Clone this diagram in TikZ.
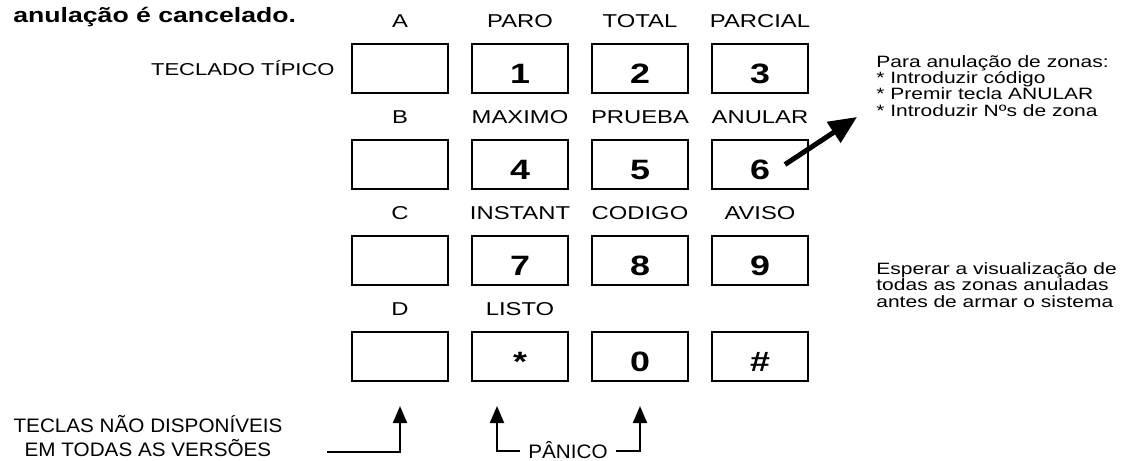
\documentclass[tikz,border=0pt]{standalone}
\usepackage{fontspec}
\setmainfont{Liberation Sans}[FakeStretch=1.28]
\newfontfamily\narrowfont{Liberation Sans}[FakeStretch=1.06]
\usetikzlibrary{positioning, arrows.meta}

\begin{document}
\begin{tikzpicture}[x=0.5pt, y=-0.5pt, node distance=60pt,
    key/.style = {draw, line width=1pt, minimum width=48pt, minimum height=24.5pt, inner sep=0pt, text height=14.5pt, text depth=0pt, font=\bfseries\fontsize{14}{14}\selectfont},
    lbl/.style = {inner sep=0pt, text depth=0pt, font=\fontsize{9.3}{9.3}\selectfont},
    note/.style = {inner sep=0pt, align=left, anchor=base west, font=\fontsize{8.2}{8.15}\selectfont},
    narrow/.style = {inner sep=0pt, text depth=0pt, font=\narrowfont\fontsize{9.75}{12}\selectfont},
    arr/.style = {line width=1pt, -{Triangle[length=8.5pt, width=7pt]}}]
    \useasboundingbox (0,0) rectangle (1137,461);
    \node[anchor=base west, inner sep=0pt, font=\bfseries\fontsize{10.4}{10.4}\selectfont] (ttl) at (13,22) {anulação é cancelado.};
    %keys
    \node[key] (a) at (400,68.5) {};
    \node[key] (1) [right of=a] {1};
    \node[key] (2) [right of=1] {2};
    \node[key] (3) [right of=2] {3};
    \node[key, node distance=48pt] (b) [below of=a] {};
    \node[key] (4) [right of=b] {4};
    \node[key] (5) [right of=4] {5};
    \node[key] (6) [right of=5] {6};
    \node[key, node distance=48pt] (c) [below of=b] {};
    \node[key] (7) [right of=c] {7};
    \node[key] (8) [right of=7] {8};
    \node[key] (9) [right of=8] {9};
    \node[key, node distance=48pt] (d) [below of=c] {};
    \node[key] (st) [right of=d] {*};
    \node[key] (0) [right of=st] {0};
    \node[key] (hs) [right of=0] {\#};
    %labels
    \node[lbl] (la) [above=7.5pt of a] {A};
    \node[lbl] (l1) [above=7.5pt of 1] {PARO};
    \node[lbl] (l2) [above=7.5pt of 2] {TOTAL};
    \node[lbl] (l3) [above=7.5pt of 3] {PARCIAL};
    \node[lbl] (lb) [above=7.5pt of b] {B};
    \node[lbl] (l4) [above=7.5pt of 4] {MAXIMO};
    \node[lbl] (l5) [above=7.5pt of 5] {PRUEBA};
    \node[lbl] (l6) [above=7.5pt of 6] {ANULAR};
    \node[lbl] (lc) [above=7.5pt of c] {C};
    \node[lbl] (l7) [above=7.5pt of 7] {INSTANT};
    \node[lbl] (l8) [above=7.5pt of 8] {CODIGO};
    \node[lbl] (l9) [above=7.5pt of 9] {AVISO};
    \node[lbl] (ld) [above=7.5pt of d] {D};
    \node[lbl] (ls) [above=7.5pt of st] {LISTO};
    \node[lbl, font=\fontsize{8.6}{8.6}\selectfont] (tt) [left=8pt of a] {TECLADO TÍPICO};
    %notes
    \node[note] (n1) at (876,116) {Para anulação de zonas:\\* Introduzir código\\* Premir tecla ANULAR\\* Introduzir Nºs de zona};
    \node[note] (n2) at (876,307) {Esperar a visualização de\\todas as zonas anuladas\\antes de armar o sistema};
    \coordinate (t6) at ([xshift=12.5pt]6.center);
    \coordinate (h6) at (857,117);
    \draw[line width=2.5pt, -{Triangle[length=14pt, width=12pt]}] (t6) -- (h6);
    %bottom
    \node[narrow, align=center, anchor=base] (nd) at (148,456) {TECLAS NÃO DISPONÍVEIS\\EM TODAS AS VERSÕES};
    \node[narrow, inner sep=4pt, text height=7pt] (pn) at (568,451) {PÂNICO};
    \coordinate (c0) at (327,452);
    \coordinate (c1) at ([xshift=-11.5pt]st.south);
    \draw[arr, shorten >=12pt] (c0) -| (d);
    \draw[arr, shorten >=12pt] (pn.west) -| (c1);
    \draw[arr, shorten >=12pt] (pn.east) -| (0);
\end{tikzpicture}
\end{document}
